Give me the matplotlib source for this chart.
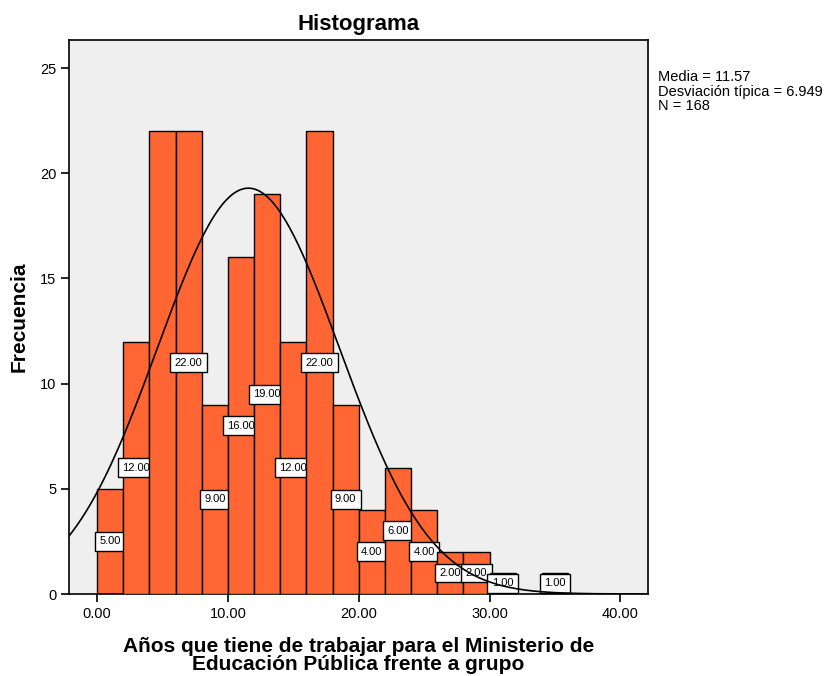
import numpy as np
import matplotlib.pyplot as plt

plt.rcParams['font.family'] = ['Liberation Sans', 'DejaVu Sans']

bin_left = [0, 2, 4, 6, 8, 10, 12, 14, 16, 18, 20, 22, 24, 26, 28, 30, 32, 34]
counts = [5, 12, 22, 22, 9, 16, 19, 12, 22, 9, 4, 6, 4, 2, 2, 1, 0, 1]
# the reference leaves out the label of the first 22 bar
show_label = [1, 1, 0, 1, 1, 1, 1, 1, 1, 1, 1, 1, 1, 1, 1, 1, 0, 1]
media = 11.57
desv = 6.949
n = 168
bin_w = 2
xticks = [0, 10, 20, 30, 40]
yticks = [0, 5, 10, 15, 20, 25]

fig = plt.figure(figsize=(8.32, 6.76), dpi=100)
ax = fig.add_axes([0.0829, 0.1213, 0.6959, 0.8195])
ax.set_facecolor('#efefef')

z = 2
for x, c, s in zip(bin_left, counts, show_label):
    if c == 0:
        continue
    ax.bar(x, c, width=bin_w, align='edge', color='#ff6633', edgecolor='black', linewidth=1, zorder=z)
    if s:
        ax.text(x + bin_w / 2, c / 2, '%.2f' % c, ha='center', va='center', fontsize=8, zorder=z + 0.5,
                bbox=dict(boxstyle='square,pad=0.4', facecolor='white', edgecolor='black', linewidth=1))
    z += 1

xs = np.linspace(-2.2, 42.2, 400)
ys = n * bin_w / (desv * np.sqrt(2 * np.pi)) * np.exp(-0.5 * ((xs - media) / desv) ** 2)
ax.plot(xs, ys, color='black', linewidth=1.2, zorder=100)

ax.set_xlim(-2.14, 42.1)
ax.set_ylim(0, 26.33)
ax.set_xticks(xticks)
ax.set_xticklabels(['%.2f' % t for t in xticks], fontsize=10.5)
ax.set_yticks(yticks)
ax.set_yticklabels([str(t) for t in yticks], fontsize=10.5)
ax.tick_params(direction='out', length=6, width=1.2, pad=3)
for sp in ax.spines.values():
    sp.set_linewidth(1.2)

ax.set_title('Histograma', fontsize=16, fontweight='bold', pad=7)
ax.set_ylabel('Frecuencia', fontsize=15, fontweight='bold', labelpad=8)
ax.set_xlabel('Años que tiene de trabajar para el Ministerio de\nEducación Pública frente a grupo',
              fontsize=15, fontweight='bold', linespacing=0.95, labelpad=12)

fig.text(658 / 832, 1 - 70 / 676, 'Media = 11.57\nDesviación típica = 6.949\nN = 168',
         ha='left', va='top', fontsize=10.5, linespacing=1.05)

fig.savefig('out.png', dpi=100)
